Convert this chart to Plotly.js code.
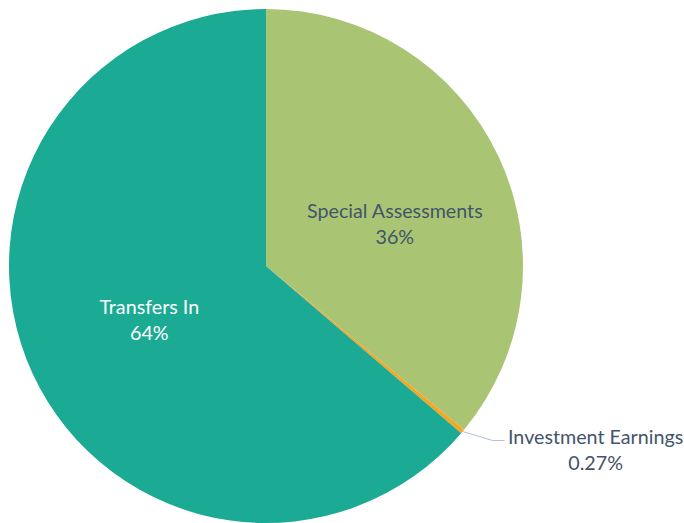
<!DOCTYPE html>
<html>
<head>
<meta charset="utf-8">
<script src="https://cdn.plot.ly/plotly-3.0.1.min.js"></script>
<style>html,body{margin:0;padding:0;background:#fff;}#chart{width:684px;height:523px;}</style>
</head>
<body>
<div id="chart"></div>
<script>
const labels = ["Special Assessments", "Investment Earnings", "Transfers In"];
const values = [36.0, 0.27, 63.73];
const colors = ["#A9C574", "#F5A623", "#1BAA94"];
const textColors = ["#44546A", "#44546A", "#FFFFFF"];
const pctDecimals = [0, 2, 0];

const W = 684, H = 523;
const cx = 266, cy = 266, R = 257;
const FONT = "Lato, sans-serif";
const FS = 19.7;

const total = values.reduce((a, b) => a + b, 0);
const pct = (i) => (values[i] / total * 100).toFixed(pctDecimals[i]) + "%";

// slices labelled by annotations (index -> pixel centre of label block)
const saIdx = 0, outIdx = 1;
let cum = 0;
for (let i = 0; i < outIdx; i++) cum += values[i];
const midAng = (cum + values[outIdx] / 2) / total * 2 * Math.PI;
const tipX = cx + R * Math.sin(midAng);
const tipY = cy - R * Math.cos(midAng);

const trace = {
  type: "pie",
  labels: labels,
  values: values,
  sort: false,
  direction: "clockwise",
  rotation: 0,
  marker: {colors: colors, line: {color: "#FFFFFF", width: 0}},
  texttemplate: labels.map((l, i) => (i === outIdx || i === saIdx) ? "" : "%{label}<br>%{percent:.0%}"),
  textposition: labels.map((l, i) => (i === outIdx || i === saIdx) ? "none" : "inside"),
  insidetextorientation: "horizontal",
  textfont: {family: FONT, size: FS, color: textColors},
  hoverinfo: "label+percent",
  domain: {x: [(cx - R) / W, (cx + R) / W], y: [(H - cy - R) / H, (H - cy + R) / H]},
  showlegend: false
};

const layout = {
  width: W, height: H,
  margin: {l: 0, r: 0, t: 0, b: 0},
  paper_bgcolor: "#FFFFFF",
  showlegend: false,
  shapes: [{
    type: "path", xref: "paper", yref: "paper",
    path: "M " + (tipX / W) + "," + (1 - tipY / H) +
          " L " + ((tipX + 30) / W) + "," + (1 - (tipY + 9) / H) +
          " L " + ((tipX + 42) / W) + "," + (1 - (tipY + 9) / H),
    line: {color: "#B4C0D0", width: 1}
  }],
  annotations: [{
    xref: "paper", yref: "paper",
    x: 395 / W, y: 1 - 224 / H,
    xanchor: "center", yanchor: "middle",
    text: labels[saIdx] + "<br>" + pct(saIdx),
    showarrow: false,
    font: {family: FONT, size: FS, color: textColors[saIdx]},
    align: "center"
  }, {
    xref: "paper", yref: "paper",
    x: (tipX + 133) / W, y: 1 - (tipY + 18) / H,
    xanchor: "center", yanchor: "middle",
    text: labels[outIdx] + "<br>" + pct(outIdx),
    showarrow: false,
    font: {family: FONT, size: FS, color: textColors[outIdx]},
    align: "center"
  }]
};

Plotly.newPlot("chart", [trace], layout, {displayModeBar: false, staticPlot: true});
</script>
</body>
</html>
